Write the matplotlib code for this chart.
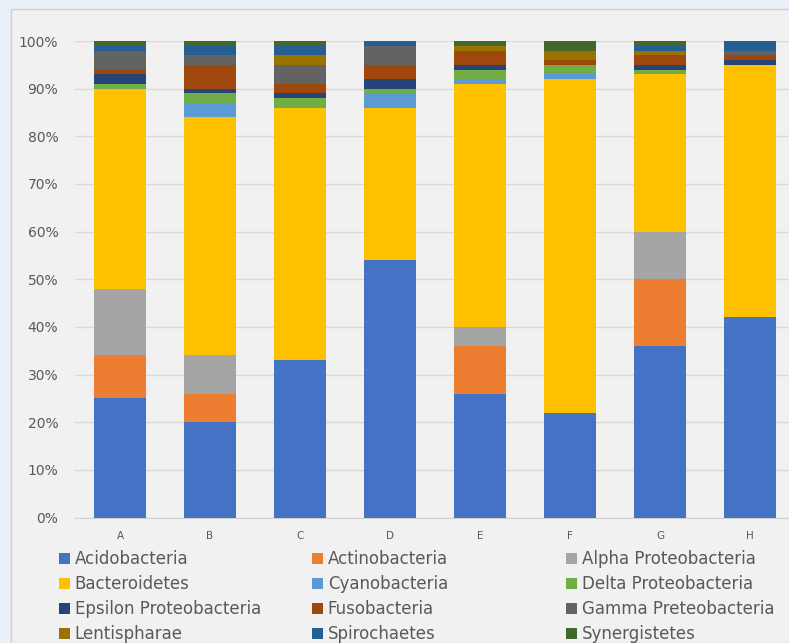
import matplotlib.pyplot as plt
import numpy as np
from matplotlib.patches import Rectangle

# sample labels and relative abundance (%) per phylum
samples = ["A", "B", "C", "D", "E", "F", "G", "H"]

phyla = [
    "Acidobacteria", "Actinobacteria", "Alpha Proteobacteria",
    "Bacteroidetes", "Cyanobacteria", "Delta Proteobacteria",
    "Epsilon Proteobacteria", "Fusobacteria", "Gamma Preteobacteria",
    "Lentispharae", "Spirochaetes", "Synergistetes",
]

acidobacteria = [25, 20, 33, 54, 26, 22, 36, 42]
actinobacteria = [9, 6, 0, 0, 10, 0, 14, 0]
alpha_proteo = [14, 8, 0, 0, 4, 0, 10, 0]
bacteroidetes = [42, 50, 53, 32, 51, 70, 33, 53]
cyanobacteria = [0, 3, 0, 3, 1, 1, 0, 0]
delta_proteo = [1, 2, 2, 1, 2, 2, 1, 0]
epsilon_proteo = [2, 1, 1, 2, 1, 0, 1, 1]
fusobacteria = [1, 5, 2, 3, 3, 1, 2, 1]
gamma_proteo = [4, 2, 4, 4, 0, 0, 0, 1]
lentispharae = [0, 0, 2, 0, 1, 2, 1, 0]
spirochaetes = [1, 2, 2, 1, 0, 0, 1, 2]
synergistetes = [1, 1, 1, 0, 1, 2, 1, 0]

series = [
    acidobacteria, actinobacteria, alpha_proteo, bacteroidetes,
    cyanobacteria, delta_proteo, epsilon_proteo, fusobacteria,
    gamma_proteo, lentispharae, spirochaetes, synergistetes,
]

colors = [
    "#4472C4", "#ED7D31", "#A5A5A5", "#FFC000", "#5B9BD5", "#70AD47",
    "#264478", "#9E480E", "#636363", "#997300", "#255E91", "#43682B",
]

W, H = 789, 643
fig = plt.figure(figsize=(W / 100, H / 100), dpi=100)
fig.patch.set_facecolor("#EAF0F8")

# chart area panel behind the axes
panel = Rectangle((11 / W, 0), 1.0, 1 - 9 / H, transform=fig.transFigure,
                  facecolor="#F1F1F1", edgecolor="#D0D0D0", lw=1.0, zorder=-5)
fig.add_artist(panel)

ax = fig.add_axes([75 / W, (H - 517.5) / H, 720 / W, 476.5 / H])
ax.set_facecolor("none")
ax.set_zorder(2)

x = np.arange(len(samples))
bottom = np.zeros(len(samples))
handles = []
for name, vals, col in zip(phyla, series, colors):
    vals = np.array(vals, dtype=float)
    b = ax.bar(x, vals, 0.575, bottom=bottom, color=col, label=name, zorder=3)
    handles.append(b)
    bottom += vals

ax.set_xlim(-0.5, 7.5)
ax.set_ylim(0, 100)
ax.set_yticks(np.arange(0, 101, 10))
ax.set_yticklabels([f"{v}%" for v in range(0, 101, 10)], fontsize=10, color="#595959")
ax.set_xticks(x)
ax.set_xticklabels(samples, fontsize=7.5, color="#595959")
ax.tick_params(axis="x", length=0, pad=10)
ax.tick_params(axis="y", length=0, pad=12)
ax.grid(axis="y", color="#D9D9D9", lw=1.0, zorder=0)
for s in ["top", "right", "left"]:
    ax.spines[s].set_visible(False)
ax.spines["bottom"].set_color("#D0D0D0")

# legend: three columns laid out like the Excel legend
col_x = [59, 312, 566]
for c in range(3):
    idx = list(range(c, 12, 3))
    leg = fig.legend([handles[i] for i in idx], [phyla[i] for i in idx],
                     loc="upper left", bbox_to_anchor=(col_x[c] / W, 1 - 550 / H),
                     frameon=False, handlelength=0.65, handleheight=0.65,
                     handletextpad=0.3, labelspacing=0.42, borderaxespad=0,
                     borderpad=0, fontsize=12)
    for t in leg.get_texts():
        t.set_color("#595959")

fig.savefig("out.png", dpi=100, facecolor=fig.get_facecolor())
